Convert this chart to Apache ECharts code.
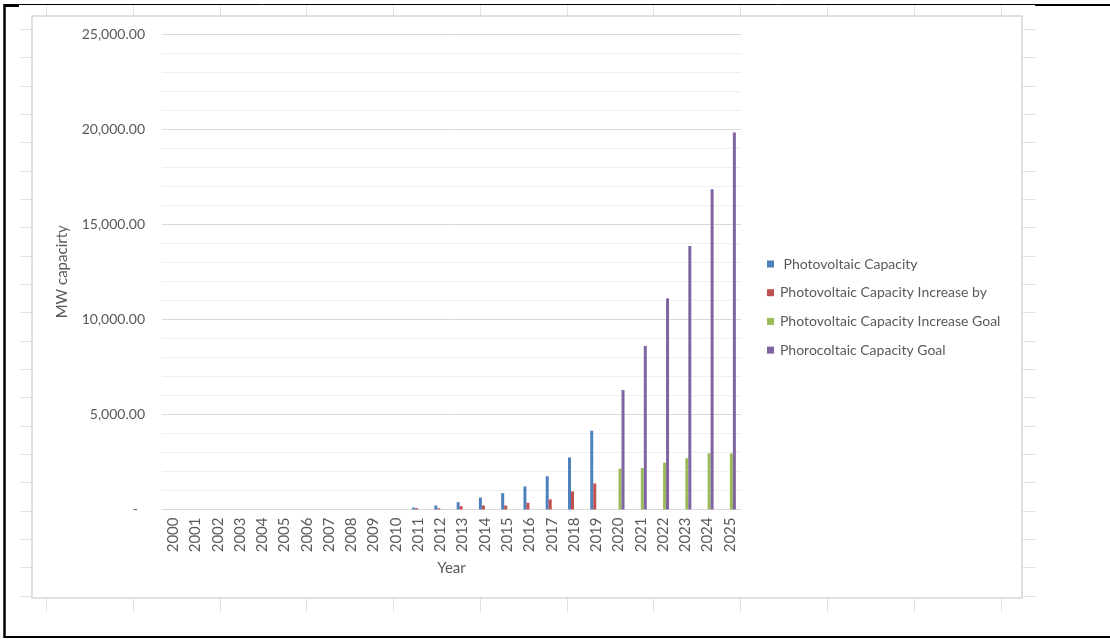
<!DOCTYPE html>
<html>
<head>
<meta charset="utf-8">
<title>Photovoltaic Capacity</title>
<script src="https://cdn.jsdelivr.net/npm/echarts@6/dist/echarts.min.js"></script>
<style>
  html, body { margin: 0; padding: 0; background: #ffffff; }
  #chart { width: 1110px; height: 639px; }
</style>
</head>
<body>
<div id="chart"></div>
<script>
// Years on the category axis
const years = ['2000','2001','2002','2003','2004','2005','2006','2007','2008','2009','2010',
  '2011','2012','2013','2014','2015','2016','2017','2018','2019',
  '2020','2021','2022','2023','2024','2025'];

// Series names as they appear in the legend
const seriesNames = [' Photovoltaic Capacity', 'Photovoltaic Capacity Increase by',
  'Photovoltaic Capacity Increase Goal', 'Phorocoltaic Capacity Goal'];

// MW values per year (null = no value for that year)
const pvCapacity = [null,null,null,null,null,null,null,null,null,null,null,
  100, 210, 385, 630, 860, 1210, 1750, 2740, 4140,
  null,null,null,null,null,null];
const pvIncrease = [null,null,null,null,null,null,null,null,null,null,null,
  70, 60, 175, 210, 210, 350, 530, 950, 1370,
  null,null,null,null,null,null];
const pvIncreaseGoal = [null,null,null,null,null,null,null,null,null,null,null,
  null,null,null,null,null,null,null,null,null,
  2150, 2180, 2460, 2700, 2950, 2950];
const pvCapacityGoal = [null,null,null,null,null,null,null,null,null,null,null,
  null,null,null,null,null,null,null,null,null,
  6280, 8600, 11100, 13860, 16840, 19820];

const seriesColors = ['#4F81BD', '#C0504D', '#9BBB59', '#8064A2'];
const seriesData = [pvCapacity, pvIncrease, pvIncreaseGoal, pvCapacityGoal];

const FONT = 'Lato, "Noto Sans", sans-serif';
const TEXT = '#595959';

// Worksheet backdrop: cell grid around the chart, chart frame and window edges
const cellLine = { stroke: '#e1e1e1', lineWidth: 1 };
const backdrop = [];
const colXs = [46, 133, 220, 306, 393, 480, 567, 653, 740, 827, 914, 1001];
colXs.forEach(x => {
  backdrop.push({ type: 'line', silent: true, z: -10,
    shape: { x1: x + 0.5, y1: 5, x2: x + 0.5, y2: 16 }, style: cellLine });
  backdrop.push({ type: 'line', silent: true, z: -10,
    shape: { x1: x + 0.5, y1: 598, x2: x + 0.5, y2: 612 }, style: cellLine });
});
for (let i = 0; i < 21; i++) {
  const y = Math.round(29 + i * 28.33) + 0.5;
  backdrop.push({ type: 'line', silent: true, z: -10,
    shape: { x1: 20, y1: y, x2: 32, y2: y }, style: cellLine });
  backdrop.push({ type: 'line', silent: true, z: -10,
    shape: { x1: 1022, y1: y, x2: 1036, y2: y }, style: cellLine });
}
// chart area frame
backdrop.push({ type: 'rect', silent: true, z: -9,
  shape: { x: 32, y: 16, width: 990, height: 582 },
  style: { fill: '#ffffff', stroke: '#d6d6d6', lineWidth: 1.5 } });
// window edges
const edge = { stroke: '#000000' };
backdrop.push({ type: 'line', silent: true, z: 50,
  shape: { x1: 5, y1: 4.5, x2: 1035, y2: 4.5 }, style: Object.assign({ lineWidth: 1 }, edge) });
backdrop.push({ type: 'line', silent: true, z: 50,
  shape: { x1: 4, y1: 5.5, x2: 19, y2: 5.5 }, style: Object.assign({ lineWidth: 3 }, edge) });
backdrop.push({ type: 'line', silent: true, z: 50,
  shape: { x1: 1035, y1: 5, x2: 1110, y2: 5 }, style: Object.assign({ lineWidth: 2 }, edge) });
backdrop.push({ type: 'line', silent: true, z: 50,
  shape: { x1: 4.5, y1: 4, x2: 4.5, y2: 638 }, style: Object.assign({ lineWidth: 2.5 }, edge) });
backdrop.push({ type: 'line', silent: true, z: 50,
  shape: { x1: 4, y1: 637, x2: 1110, y2: 637 }, style: Object.assign({ lineWidth: 2 }, edge) });

function formatMW(v) {
  if (v === 0) return '{z|-}';
  return v.toLocaleString('en-US', { minimumFractionDigits: 2, maximumFractionDigits: 2 });
}

const chart = echarts.init(document.getElementById('chart'), null, { renderer: 'canvas' });
chart.setOption({
  backgroundColor: '#ffffff',
  animation: false,
  textStyle: { fontFamily: FONT },
  graphic: { elements: backdrop },
  grid: { left: 162, right: 369, top: 34, bottom: 129.5, containLabel: false },
  legend: {
    orient: 'vertical',
    left: 762,
    top: 252,
    padding: 5,
    icon: 'rect',
    itemWidth: 7,
    itemHeight: 7,
    itemGap: 14.7,
    textStyle: { color: TEXT, fontSize: 14, fontFamily: FONT, lineHeight: 14, padding: [0, 0, 0, 1] },
    data: seriesNames
  },
  xAxis: {
    type: 'category',
    data: years,
    name: 'Year',
    nameLocation: 'middle',
    nameGap: 51,
    nameTextStyle: { color: TEXT, fontSize: 15, fontFamily: FONT },
    axisLine: { show: true, lineStyle: { color: '#d9d9d9', width: 1 } },
    axisTick: { show: false },
    axisLabel: { color: TEXT, fontSize: 15, rotate: 90, margin: 8, interval: 0, fontFamily: FONT },
    splitLine: { show: false }
  },
  yAxis: {
    type: 'value',
    min: 0,
    max: 25000,
    interval: 5000,
    name: 'MW capacirty',
    nameLocation: 'middle',
    nameGap: 92,
    nameRotate: 90,
    nameTextStyle: { color: TEXT, fontSize: 15, fontFamily: FONT },
    axisLine: { show: false },
    axisTick: { show: false },
    axisLabel: {
      color: TEXT, fontSize: 14, margin: 17, fontFamily: FONT,
      formatter: formatMW,
      rich: { z: { color: TEXT, fontSize: 14, fontFamily: FONT, padding: [0, 7, 0, 0] } }
    },
    splitLine: { show: true, lineStyle: { color: '#d9d9d9', width: 1 } },
    minorTick: { show: false, splitNumber: 5 },
    minorSplitLine: { show: true, lineStyle: { color: '#efefef', width: 1 } }
  },
  series: seriesNames.map((name, i) => ({
    name: name,
    type: 'bar',
    data: seriesData[i],
    barWidth: 3,
    barGap: '0%',
    itemStyle: { color: seriesColors[i] },
    emphasis: { disabled: true }
  }))
});
</script>
</body>
</html>
